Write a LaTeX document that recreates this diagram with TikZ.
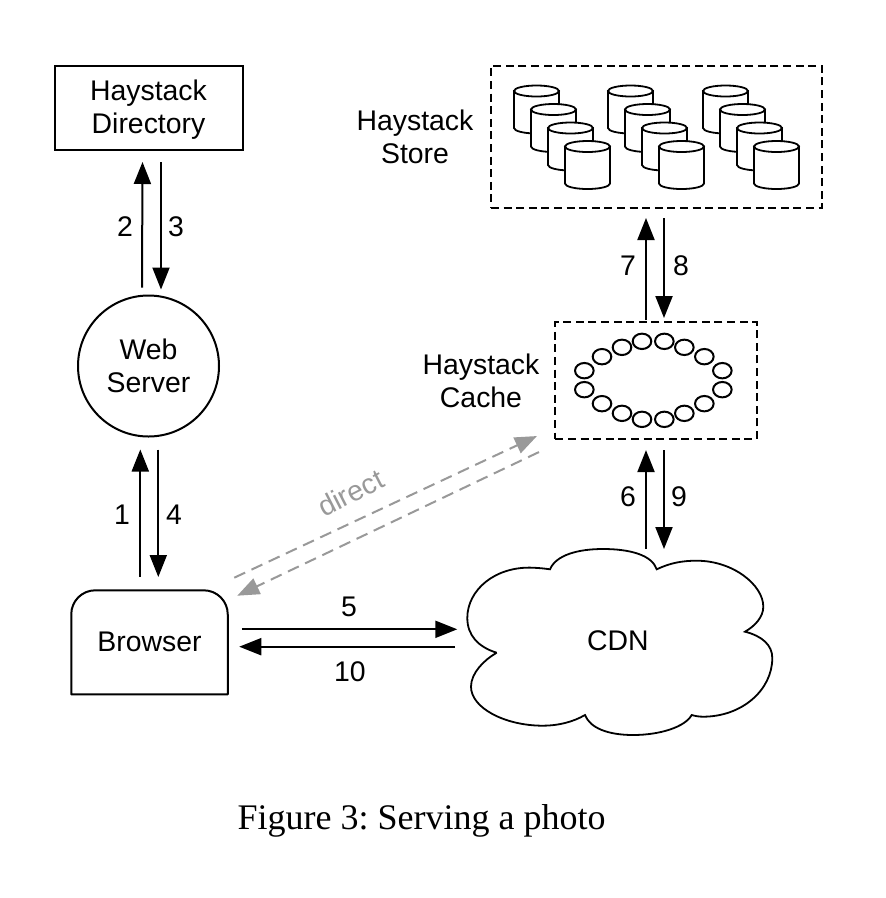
\documentclass[tikz,border=0pt]{standalone}
\usepackage{fontspec}
\setmainfont{Liberation Sans}
\newfontfamily\capfont{Liberation Serif}
\usetikzlibrary{arrows.meta,shapes.geometric}
\colorlet{dirgray}{black!40}
\frenchspacing
\tikzset{
  box/.style={draw=black,line width=2pt,fill=white,rectangle,inner sep=0pt,outer sep=0pt,align=center},
  dashbox/.style={draw=black,line width=2pt,dash pattern=on 8pt off 4.6pt,rectangle,inner sep=0pt,outer sep=0pt},
  lbl/.style={inner sep=0pt,outer sep=0pt,align=center,font=\fontsize{28.4}{33}\selectfont},
  arr/.style={line width=2pt,draw=black,-{Triangle[length=22pt,width=17pt]}},
  grayarr/.style={line width=2pt,draw=dirgray,dash pattern=on 12pt off 7pt,-{Triangle[length=22pt,width=17pt,fill=dirgray]}},
  cyl/.style={line width=1.8pt,draw=black,fill=white},
  bead/.style={line width=2pt,draw=black,fill=white}
}
\newcommand{\stcyl}[2]{%
  \path[cyl] (#1,#2) -- (#1,#2+37) arc[start angle=180,end angle=360,x radius=22.5pt,y radius=5.5pt] -- (#1+45,#2) -- cycle;
  \path[cyl] (#1+22.5,#2) ellipse [x radius=22.5pt,y radius=5.5pt];
}
\begin{document}
\begin{tikzpicture}[x=1pt,y=-1pt]
\useasboundingbox (0,0) rectangle (886,898);
\fill[white] (0,0) rectangle (886,898);

% Nodes
\node[box,minimum width=188pt,minimum height=84pt] (directory) at (149,108) {};
\node[lbl] (directorylbl) at (148.5,110) {Haystack\\Directory};
\node[box,lbl,circle,minimum size=141pt] (web) at (148.5,366) {Web\\Server};
\node[lbl,rectangle,minimum width=156.5pt,minimum height=104pt] (browser) at (149.5,642.3) {Browser};
\draw[line width=2pt,line join=round] (browser.south west) [rounded corners=24pt] -- (browser.north west) -- (browser.north east) [sharp corners] -- (browser.south east) -- cycle;
\node[dashbox,minimum width=331pt,minimum height=142pt] (store) at (656.5,137) {};
\node[dashbox,minimum width=201.5pt,minimum height=116.7pt] (cache) at (656.2,380.7) {};

% CDN cloud
\coordinate (cdnA) at (496.7,652.7);
\coordinate (cdnB) at (550,569.3);
\coordinate (cdnC) at (656.7,569.3);
\coordinate (cdnD) at (745,631.7);
\coordinate (cdnE) at (691.7,715);
\coordinate (cdnF) at (585,715);
\draw[line width=1.8pt,fill=white,line join=miter]
  (cdnA) .. controls (478,647) and (467.3,635) .. (467.3,618)
         .. controls (467.3,590) and (495,566) .. (533,567.7)
         .. controls (540,568) and (545,568.6) .. (cdnB)
         .. controls (556,555) and (578,549) .. (603,549)
         .. controls (630,549) and (652,555) .. (cdnC)
         .. controls (670,563) and (682,560.7) .. (696.7,560.7)
         .. controls (733,560.7) and (763.3,585) .. (763.3,606.7)
         .. controls (763.3,617) and (755,626) .. (cdnD)
         .. controls (762,636) and (772.3,645) .. (772.3,658)
         .. controls (772.3,690) and (742,716.7) .. (703,716.7)
         .. controls (699,716.7) and (695,716) .. (cdnE)
         .. controls (685,727) and (660,735) .. (633,735)
         .. controls (608,735) and (590,728) .. (cdnF)
         .. controls (573,722) and (558,725.7) .. (543,725.7)
         .. controls (505,725.7) and (471,708) .. (471,686.7)
         .. controls (471,673) and (484,660) .. (cdnA);
\node[lbl] (cdn) at (618,641) {CDN};

% Cylinders
\foreach \gx in {514,608,703}{
  \foreach \k in {0,1,2,3}{
    \pgfmathsetmacro{\cx}{\gx+17*\k}
    \pgfmathsetmacro{\cy}{91+18.5*\k}
    \stcyl{\cx}{\cy}
  }
}

% Cache beads
\foreach \bx/\by in {133/167,133/224,186/125,186/266,246/97,246/295,306/79,306/313,373/79,373/313,433/97,433/295,493/125,493/266,547/167,547/224}{
  \path[bead] (540+\bx/3,315+\by/3) ellipse [x radius=9.3pt,y radius=7.7pt];
}

% Side labels
\node[lbl] (storelbl) at (415,137) {Haystack\\Store};
\node[lbl] (cachelbl) at (481,381) {Haystack\\Cache};

% Connectors
\draw[arr] ([xshift=-6.5pt,yshift=8pt]web.north) -- ([xshift=-6.5pt,yshift=-12pt]directory.south);
\draw[arr] ([xshift=12pt,yshift=-12pt]directory.south) -- ([xshift=12.5pt,yshift=6pt]web.north);
\draw[arr] ([xshift=-9.2pt,yshift=13.6pt]browser.north) -- ([xshift=-8.2pt,yshift=-13pt]web.south);
\draw[arr] ([xshift=9.8pt,yshift=-13pt]web.south) -- ([xshift=8.8pt,yshift=13.3pt]browser.north);
\draw[arr] ([xshift=14pt,yshift=13pt]browser.east) -- ([xshift=-39.4pt,yshift=23.4pt]cdnA);
\draw[arr] ([xshift=-41.7pt,yshift=6pt]cdnA) -- ([xshift=11.5pt,yshift=-4.4pt]browser.east);
\draw[arr] ([xshift=-10.2pt,yshift=2.3pt]cache.north) -- ([xshift=-10.5pt,yshift=-10pt]store.south);
\draw[arr] ([xshift=7.5pt,yshift=-10pt]store.south) -- ([xshift=7.8pt,yshift=4.3pt]cache.north);
\draw[arr] ([xshift=-10.7pt,yshift=20.3pt]cdnC) -- ([xshift=-10.2pt,yshift=-11pt]cache.south);
\draw[arr] ([xshift=7.8pt,yshift=-11pt]cache.south) -- ([xshift=7.3pt,yshift=20.3pt]cdnC);
\draw[grayarr] ([xshift=6.5pt,yshift=12.6pt]browser.north east) -- ([xshift=-18.5pt,yshift=3pt]cache.south west);
\draw[grayarr] ([xshift=-16.5pt,yshift=-13pt]cache.south west) -- ([xshift=9.5pt,yshift=-5.4pt]browser.north east);

% Connector labels
\node[lbl] (n2) at (125,227) {2};
\node[lbl] (n3) at (176,227) {3};
\node[lbl] (n1) at (122,515) {1};
\node[lbl] (n4) at (174,515) {4};
\node[lbl] (n5) at (349,607) {5};
\node[lbl] (n10) at (350,672) {10};
\node[lbl] (n7) at (628,266) {7};
\node[lbl] (n8) at (681,266) {8};
\node[lbl] (n6) at (628,497) {6};
\node[lbl] (n9) at (679,497) {9};
\node[lbl,text=dirgray,rotate=27] (direct) at (350.5,493) {direct};

% Caption
\node[inner sep=0pt,outer sep=0pt,font=\capfont\fontsize{36}{40}\selectfont] (caption) at (421.5,821) {Figure 3: Serving a photo};
\end{tikzpicture}
\end{document}
